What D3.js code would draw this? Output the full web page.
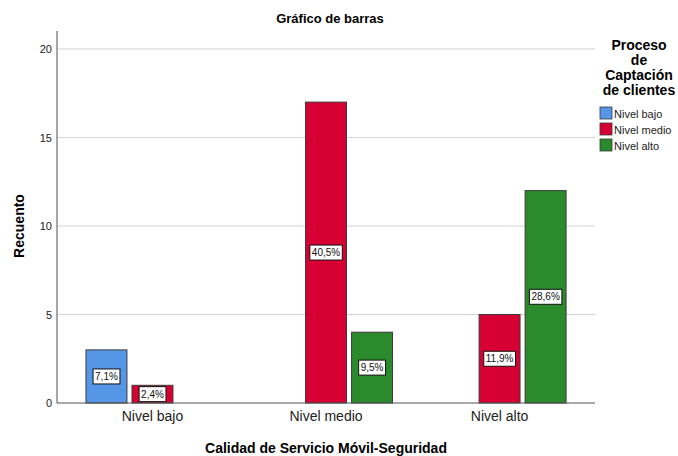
<!DOCTYPE html>
<html>
<head>
<meta charset="utf-8">
<script src="https://cdn.jsdelivr.net/npm/d3@7"></script>
<style>
  body { margin: 0; background: #fff; }
  text { font-family: Arial, "Liberation Sans", sans-serif; }
</style>
</head>
<body>
<svg class="view" width="678" height="456"></svg>
<script>
var categories = ['Nivel bajo', 'Nivel medio', 'Nivel alto'];
var series = ['Nivel bajo', 'Nivel medio', 'Nivel alto'];
// counts per category, one value per series
var nivelBajo = [3, 1, 0];
var nivelMedio = [0, 17, 4];
var nivelAlto = [0, 5, 12];
var yTicks = [0, 5, 10, 15, 20];
var colors = ['#5596e6', '#d60032', '#2a8a2c'];

var counts = [nivelBajo, nivelMedio, nivelAlto];
var total = d3.sum(counts, function (r) { return d3.sum(r); });

var svg = d3.select('.view');
var plotLeft = 57, plotRight = 595, plotTop = 31, plotBottom = 403;

var x = d3.scaleBand().domain(categories).range([plotLeft, plotRight]).paddingInner(0).paddingOuter(0.05);
var xs = d3.scaleBand().domain(series).range([20.3, 153.3]).paddingInner(0.11).paddingOuter(0);
var y = d3.scaleLinear().domain([0, 20]).range([plotBottom, 49]);

// grid
svg.append('g').selectAll('line')
    .data(yTicks.filter(function (d) { return d > 0; }))
    .enter().append('line')
    .attr('x1', plotLeft).attr('x2', plotRight)
    .attr('y1', function (d) { return y(d); })
    .attr('y2', function (d) { return y(d); })
    .attr('stroke', '#d4d4d4').attr('stroke-width', 1.2);

// y axis
var yAxis = svg.append('g')
    .attr('transform', 'translate(' + plotLeft + ',0)')
    .call(d3.axisLeft(y).tickValues(yTicks).tickSize(0).tickPadding(5));
yAxis.select('.domain').remove();
yAxis.selectAll('text').attr('font-size', 11).attr('fill', '#222').style('font-family', 'Arial, "Liberation Sans", sans-serif');
svg.append('line').attr('x1', plotLeft).attr('x2', plotLeft).attr('y1', plotTop).attr('y2', plotBottom)
    .attr('stroke', '#888').attr('stroke-width', 1.5);

// bars
var groups = svg.append('g').selectAll('g')
    .data(categories)
    .enter().append('g')
    .attr('transform', function (d) { return 'translate(' + x(d) + ',0)'; });

var cells = groups.selectAll('g')
    .data(function (d, i) {
        return series.map(function (s, j) { return { s: s, j: j, v: counts[i][j] }; })
            .filter(function (c) { return c.v > 0; });
    })
    .enter().append('g');

cells.append('rect')
    .attr('x', function (d) { return xs(d.s); })
    .attr('width', xs.bandwidth())
    .attr('y', function (d) { return y(d.v); })
    .attr('height', function (d) { return y(0) - y(d.v); })
    .attr('fill', function (d) { return colors[d.j]; })
    .attr('stroke', '#3a3a3a').attr('stroke-width', 1);

cells.each(function (d) {
    var g = d3.select(this);
    var label = (d.v / total * 100).toFixed(1).replace('.', ',') + '%';
    var cx = xs(d.s) + xs.bandwidth() / 2;
    var cy = (y(d.v) + y(0)) / 2;
    var t = g.append('text')
        .attr('x', cx).attr('y', cy + 3.5)
        .attr('text-anchor', 'middle')
        .attr('font-size', 10).attr('fill', '#111')
        .text(label);
    var b = t.node().getBBox();
    g.insert('rect', 'text')
        .attr('x', b.x - 2).attr('y', cy - 7.5)
        .attr('width', b.width + 4).attr('height', 15)
        .attr('fill', '#fff').attr('stroke', '#111').attr('stroke-width', 1);
});

// x axis
svg.append('line').attr('x1', plotLeft).attr('x2', plotRight).attr('y1', plotBottom).attr('y2', plotBottom)
    .attr('stroke', '#555').attr('stroke-width', 1.2);
svg.append('g').selectAll('text')
    .data(categories)
    .enter().append('text')
    .attr('x', function (d) { return x(d) + xs.range()[0] + (xs.range()[1] - xs.range()[0]) / 2; })
    .attr('y', 421)
    .attr('text-anchor', 'middle')
    .attr('font-size', 14).attr('fill', '#222')
    .text(function (d) { return d; });

// titles
svg.append('text').attr('x', 330).attr('y', 23).attr('text-anchor', 'middle')
    .attr('font-size', 13).attr('font-weight', 'bold').text('Gráfico de barras');
svg.append('text').attr('x', 326).attr('y', 453).attr('text-anchor', 'middle')
    .attr('font-size', 14).attr('font-weight', 'bold').text('Calidad de Servicio Móvil-Seguridad');
svg.append('text').attr('transform', 'translate(24,226) rotate(-90)').attr('text-anchor', 'middle')
    .attr('font-size', 14).attr('font-weight', 'bold').text('Recuento');

// legend
var legendTitle = ['Proceso', 'de', 'Captación', 'de clientes'];
svg.append('g').selectAll('text')
    .data(legendTitle)
    .enter().append('text')
    .attr('x', 639).attr('y', function (d, i) { return 50 + i * 15; })
    .attr('text-anchor', 'middle')
    .attr('font-size', 14).attr('font-weight', 'bold')
    .text(function (d) { return d; });

var legend = svg.append('g').selectAll('g')
    .data(series)
    .enter().append('g')
    .attr('transform', function (d, i) { return 'translate(600,' + (107 + i * 16) + ')'; });
legend.append('rect').attr('width', 12).attr('height', 12)
    .attr('fill', function (d, i) { return colors[i]; })
    .attr('stroke', '#3a3a3a').attr('stroke-width', 0.8);
legend.append('text').attr('x', 14).attr('y', 10.5)
    .attr('font-size', 11).attr('fill', '#222')
    .text(function (d) { return d; });
</script>
</body>
</html>
